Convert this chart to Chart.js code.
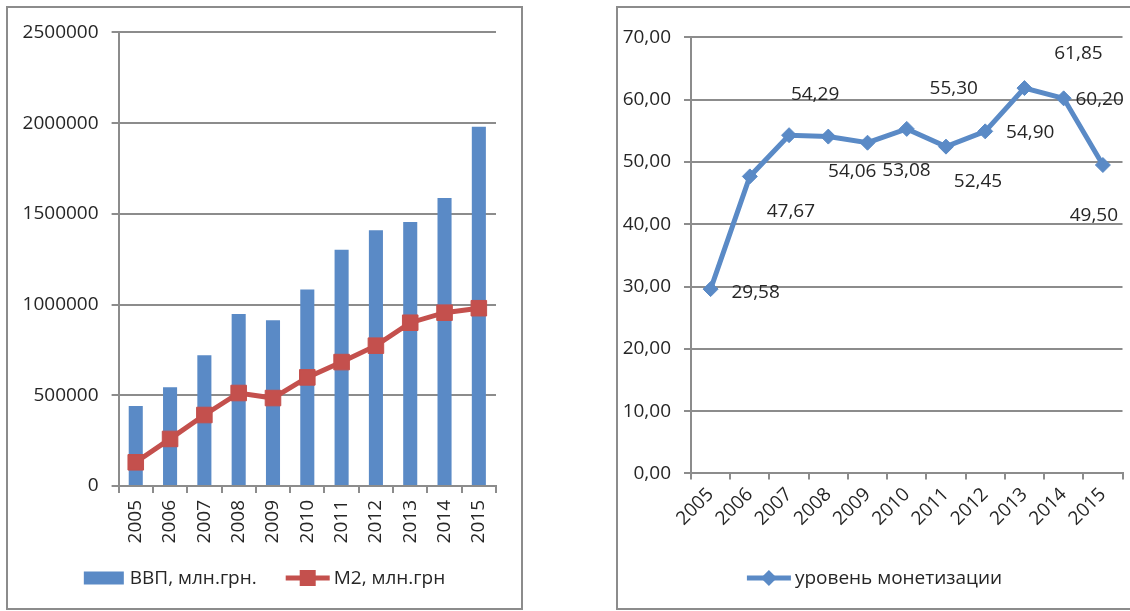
<!DOCTYPE html>
<html>
<head>
  <meta charset="utf-8">
  <title>ВВП, M2 и уровень монетизации</title>
  <script src="https://cdn.jsdelivr.net/npm/chart.js@4.4.0/dist/chart.umd.min.js"></script>
  <style>
    html, body { margin: 0; padding: 0; background: #fff; overflow: hidden; }
    .frame { position: absolute; top: 6px; border: 2px solid #8c8c8c; }
    #left { left: 6px; }
    #right { left: 616px; }
    canvas { display: block; }
  </style>
</head>
<body>
  <div class="frame" id="left"><canvas id="gdpChart" width="513" height="600"></canvas></div>
  <div class="frame" id="right"><canvas id="monChart" width="513" height="600"></canvas></div>

  <script>
    // данные
    const years = ['2005', '2006', '2007', '2008', '2009', '2010', '2011', '2012', '2013', '2014', '2015'];
    const gdp = [441452, 544153, 720731, 948056, 913345, 1082569, 1302079, 1408889, 1454931, 1586915, 1979458];
    const m2 = [130580, 259400, 391290, 512520, 484800, 598660, 682940, 773480, 899880, 955320, 979830];
    const monetization = [29.58, 47.67, 54.29, 54.06, 53.08, 55.30, 52.45, 54.90, 61.85, 60.20, 49.50];

    // смещение подписей значений относительно точек (px)
    const labelOffsets = [[45, 3], [41, 35], [26, -41], [24, 35], [39, 28], [47, -40], [32, 35], [45, 1], [54, -34], [36, 1], [-9, 51]];

    const FONT = "'Open Sans', 'DejaVu Sans', sans-serif";
    const TEXT = '#262626';
    const GRID = '#8c8c8c';
    const BLUE = '#5a8ac6';
    const RED = '#c4504d';

    Chart.defaults.font.family = FONT;
    Chart.defaults.font.size = 19;
    Chart.defaults.color = TEXT;

    const comma = v => v.toFixed(2).replace('.', ',');

    function drawMarker(ctx, style, x, y, r) {
      ctx.beginPath();
      if (style === 'rect') {
        ctx.rect(x - r, y - r, 2 * r, 2 * r);
      } else {
        ctx.moveTo(x, y - r); ctx.lineTo(x + r, y); ctx.lineTo(x, y + r); ctx.lineTo(x - r, y);
        ctx.closePath();
      }
      ctx.fill();
    }

    // легенда как в Excel: прямоугольник или линия с маркером
    function legendPlugin(items) {
      return {
        id: 'excelLegend',
        afterDraw(chart) {
          const ctx = chart.ctx;
          ctx.save();
          ctx.font = '19px ' + FONT;
          const widths = items.map(it => (it.kind === 'bar' ? 46 : 48) + ctx.measureText(it.text).width);
          const total = widths.reduce((a, b) => a + b, 0) + 29 * (items.length - 1);
          let x = (chart.width - total) / 2;
          const y = chart.height - 30;
          items.forEach((it, i) => {
            if (it.kind === 'bar') {
              ctx.fillStyle = it.color;
              ctx.fillRect(x, y - 6.5, 40, 13);
              x += 46;
            } else {
              ctx.strokeStyle = it.color;
              ctx.lineWidth = 5;
              ctx.beginPath(); ctx.moveTo(x, y); ctx.lineTo(x + 44, y); ctx.stroke();
              ctx.fillStyle = it.color;
              drawMarker(ctx, it.marker, x + 22, y, it.marker === 'rect' ? 8 : 8);
              x += 48;
            }
            ctx.fillStyle = TEXT;
            ctx.textAlign = 'left';
            ctx.textBaseline = 'middle';
            ctx.fillText(it.text, x, y + 1);
            x += widths[i] - (it.kind === 'bar' ? 46 : 48) + 29;
          });
          ctx.restore();
        }
      };
    }

    const valueLabels = {
      id: 'valueLabels',
      afterDatasetsDraw(chart) {
        const ctx = chart.ctx;
        const meta = chart.getDatasetMeta(0);
        ctx.save();
        ctx.font = '19px ' + FONT;
        ctx.fillStyle = TEXT;
        ctx.textAlign = 'center';
        ctx.textBaseline = 'middle';
        meta.data.forEach((pt, i) => {
          ctx.fillText(comma(monetization[i]), pt.x + labelOffsets[i][0], pt.y + labelOffsets[i][1]);
        });
        ctx.restore();
      }
    };

    // ВВП и M2
    new Chart(document.getElementById('gdpChart'), {
      type: 'bar',
      data: {
        labels: years,
        datasets: [{
          type: 'bar',
          label: 'ВВП, млн.грн.',
          data: gdp,
          backgroundColor: BLUE,
          categoryPercentage: 1,
          barPercentage: 0.41,
          order: 2
        }, {
          type: 'line',
          label: 'M2, млн.грн',
          data: m2,
          borderColor: RED,
          backgroundColor: RED,
          borderWidth: 5,
          pointStyle: 'rect',
          pointRadius: 11,
          pointBorderWidth: 1,
          tension: 0,
          order: 1
        }]
      },
      options: {
        responsive: false,
        animation: false,
        layout: { padding: { left: 0, top: 22, right: 25, bottom: 60 } },
        plugins: { legend: { display: false }, tooltip: { enabled: false } },
        scales: {
          x: {
            offset: true,
            grid: { offset: true, drawOnChartArea: false, color: GRID, lineWidth: 2, tickLength: 7 },
            border: { color: GRID, width: 2 },
            ticks: { minRotation: 90, maxRotation: 90, autoSkip: false, padding: 7 },
            afterFit: s => { s.height = 62; }
          },
          y: {
            min: 0,
            max: 2500000,
            grid: { color: GRID, lineWidth: 2, tickLength: 7 },
            border: { color: GRID, width: 2 },
            ticks: { stepSize: 500000, padding: 13, callback: v => String(v) },
            afterFit: s => { s.width = 110.6; }
          }
        }
      },
      plugins: [legendPlugin([
        { kind: 'bar', color: BLUE, text: 'ВВП, млн.грн.' },
        { kind: 'line', color: RED, marker: 'rect', text: 'M2, млн.грн' }
      ])]
    });

    // уровень монетизации
    new Chart(document.getElementById('monChart'), {
      type: 'line',
      data: {
        labels: years,
        datasets: [{
          label: 'уровень монетизации',
          data: monetization,
          borderColor: BLUE,
          backgroundColor: BLUE,
          borderWidth: 5,
          pointStyle: 'rectRot',
          pointRadius: 7.5,
          pointBorderWidth: 1,
          tension: 0
        }]
      },
      options: {
        responsive: false,
        animation: false,
        layout: { padding: { left: 0, top: 29.3, right: 0, bottom: 64.6 } },
        plugins: { legend: { display: false }, tooltip: { enabled: false } },
        scales: {
          x: {
            offset: true,
            grid: { offset: true, drawOnChartArea: false, color: GRID, lineWidth: 2, tickLength: 6 },
            border: { color: GRID, width: 2 },
            ticks: { minRotation: 45, maxRotation: 45, autoSkip: false, padding: 4 },
            afterFit: s => { s.height = 70; }
          },
          y: {
            min: 0,
            max: 70,
            grid: { color: GRID, lineWidth: 2, tickLength: 7 },
            border: { color: GRID, width: 2 },
            ticks: { stepSize: 10, padding: 13, callback: v => comma(v) },
            afterFit: s => { s.width = 73; }
          }
        }
      },
      plugins: [valueLabels, legendPlugin([
        { kind: 'line', color: BLUE, marker: 'rectRot', text: 'уровень монетизации' }
      ])]
    });
  </script>
</body>
</html>
